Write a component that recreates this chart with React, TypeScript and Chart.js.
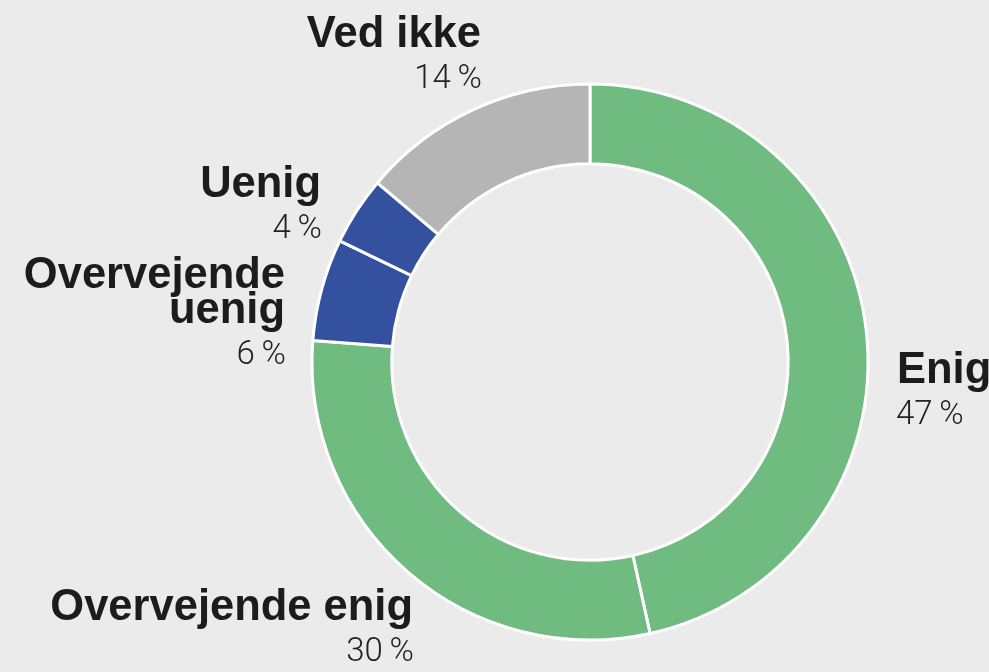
import React, { useEffect, useRef } from "react";
import { Chart, registerables } from "chart.js";

Chart.register(...registerables);

const categories = ["Enig", "Overvejende enig", "Overvejende uenig", "Uenig", "Ved ikke"];
const values = [47, 30, 6, 4, 14];
const colors = ["#6fbb80", "#6fbb80", "#3451a0", "#3451a0", "#b5b5b5"];
// label lines (category name may wrap)
const labelLines = [["Enig"], ["Overvejende enig"], ["Overvejende", "uenig"], ["Uenig"], ["Ved ikke"]];

// layout: anchor offsets relative to the doughnut centre (layout only, not data)
const labelLayout = [
  { dx: 307, dy: 21, align: "left" as CanvasTextAlign },
  { dx: -177, dy: 258, align: "right" as CanvasTextAlign },
  { dx: -305, dy: -74, align: "right" as CanvasTextAlign },
  { dx: -269, dy: -165, align: "right" as CanvasTextAlign },
  { dx: -109, dy: -315, align: "right" as CanvasTextAlign },
];

const BOLD = "bold 43.5px 'Liberation Sans', Arial, sans-serif";
const LIGHT = "300 33px Roboto, 'Liberation Sans', sans-serif";

const labelPlugin = {
  id: "doughnutLabels",
  afterDatasetsDraw(chart: any) {
    const ctx = chart.ctx as CanvasRenderingContext2D;
    const arc = chart.getDatasetMeta(0).data[0] as any;
    const cx = arc.x;
    const cy = arc.y;
    ctx.save();
    ctx.textBaseline = "alphabetic";
    categories.forEach((_, i) => {
      const lay = labelLayout[i];
      const x = cx + lay.dx;
      let y = cy + lay.dy;
      ctx.textAlign = lay.align;
      ctx.font = BOLD;
      ctx.fillStyle = "#1c1c1c";
      const lines = labelLines[i];
      lines.forEach((ln, j) => {
        ctx.fillText(ln, x, y + j * 35);
      });
      y += (lines.length - 1) * 35 + 40;
      ctx.font = LIGHT;
      ctx.fillStyle = "#222222";
      ctx.fillText(values[i] + "\u2009%", x + (lay.align === "left" ? -1 : 1), y + 1);
    });
    ctx.restore();
  },
};

export default function App() {
  const ref = useRef<HTMLCanvasElement | null>(null);
  useEffect(() => {
    if (!ref.current) return;
    const chart = new Chart(ref.current, {
      type: "doughnut",
      data: {
        labels: categories,
        datasets: [
          {
            data: values,
            backgroundColor: colors,
            borderColor: "#ffffff",
            borderWidth: 3,
            hoverOffset: 0,
          },
        ],
      },
      options: {
        responsive: false,
        devicePixelRatio: 1,
        animation: false,
        radius: 278,
        cutout: "71.3%",
        layout: { padding: { left: 313, right: 122, top: 85, bottom: 33 } },
        plugins: {
          legend: { display: false },
          tooltip: { enabled: false },
        },
      },
      plugins: [labelPlugin],
    });
    return () => chart.destroy();
  }, []);
  return (
    <div style={{ position: "fixed", left: 0, top: 0, width: 989, height: 672, background: "#ebebeb" }}>
      <canvas ref={ref} width={989} height={672} style={{ display: "block", width: 989, height: 672 }} />
    </div>
  );
}
